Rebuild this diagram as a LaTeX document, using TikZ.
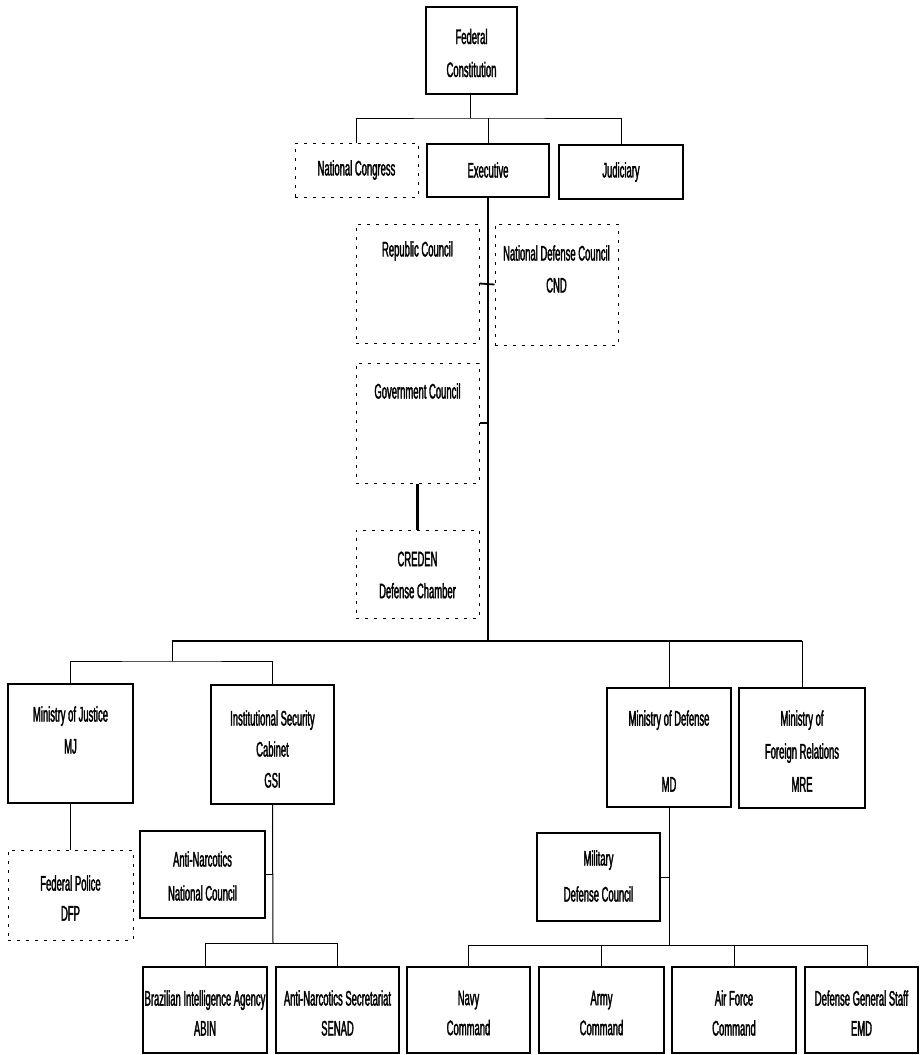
\documentclass[tikz,border=0pt]{standalone}
\usepackage{fontspec}
\newfontfamily\nar[FakeStretch=0.45,FakeBold=1.6]{Liberation Sans}
\usetikzlibrary{calc}
\begin{document}
\begin{tikzpicture}[x=1pt,y=-1pt,
  box/.style={draw, line width=2.4pt, inner sep=0pt},
  dbox/.style={draw, line width=1pt, dash pattern=on 3pt off 6pt, inner sep=0pt},
  txt/.style={align=center, inner sep=0pt, font=\nar\fontsize{21}{32}\selectfont},
  conn/.style={line width=1pt},
  heavy/.style={line width=2.4pt},
  mid/.style={line width=1.8pt}]
\useasboundingbox (0,0) rectangle (920,1055);
\fill[white] (0,0) rectangle (920,1055);

% ---- boxes ----
\node[box,  minimum width=91,  minimum height=87]  (fc)  at (471.5,50.5) {};
\node[dbox, minimum width=123, minimum height=54]  (nc)  at (356.5,170) {};
\node[box,  minimum width=122, minimum height=53]  (ex)  at (488,170.5) {};
\node[box,  minimum width=124, minimum height=54]  (ju)  at (621,172) {};
\node[dbox, minimum width=123, minimum height=119] (rc)  at (417.5,283.5) {};
\node[dbox, minimum width=123, minimum height=121] (nd)  at (556.5,284.5) {};
\node[dbox, minimum width=123, minimum height=120] (gc)  at (417.5,423) {};
\node[dbox, minimum width=123, minimum height=88]  (cr)  at (417.5,574) {};
\node[box,  minimum width=125, minimum height=119] (mj)  at (70.5,743.5) {};
\node[box,  minimum width=123, minimum height=119] (gsi) at (272.5,744.5) {};
\node[box,  minimum width=124, minimum height=119] (md)  at (669,747.5) {};
\node[box,  minimum width=126, minimum height=120] (mre) at (802,748) {};
\node[dbox, minimum width=125, minimum height=90]  (fp)  at (70.5,895) {};
\node[box,  minimum width=125, minimum height=87]  (an)  at (202.5,874.5) {};
\node[box,  minimum width=123, minimum height=88]  (mdc) at (598.5,877) {};
\node[box,  minimum width=124, minimum height=86]  (abin)  at (205,1010) {};
\node[box,  minimum width=123, minimum height=86]  (senad) at (337.5,1010) {};
\node[box,  minimum width=123, minimum height=86]  (navy)  at (468.5,1010) {};
\node[box,  minimum width=125, minimum height=86]  (army)  at (601.5,1010) {};
\node[box,  minimum width=124, minimum height=86]  (af)    at (734,1010) {};
\node[box,  minimum width=113, minimum height=86]  (emd)   at (861.5,1010) {};

% ---- texts ----
\node[txt, font=\nar\fontsize{21}{33}\selectfont] (fct) at (471.5,53) {Federal\\Constitution};
\node[txt] (nct) at (356.5,170) {National Congress};
\node[txt] (ext) at (488,170) {Executive};
\node[txt] (jut) at (621,172) {Judiciary};
\node[txt] (rct) at (417.5,251) {Republic Council};
\node[txt] (ndt) at (556.5,269) {National Defense Council\\CND};
\node[txt] (gct) at (417.5,391) {Government Council};
\node[txt] (crt) at (417.5,575) {CREDEN\\Defense Chamber};
\node[txt] (mjt) at (70.5,730) {Ministry of Justice\\MJ};
\node[txt, font=\nar\fontsize{21}{31}\selectfont] (gsit) at (272.5,749) {Institutional Security\\Cabinet\\GSI};
\node[txt] (mdt) at (669,751) {Ministry of Defense\\[34pt]MD};
\node[txt, font=\nar\fontsize{21}{33}\selectfont] (mret) at (802,751) {Ministry of\\Foreign Relations\\MRE};
\node[txt, font=\nar\fontsize{21}{30}\selectfont] (fpt) at (70.5,898) {Federal Police\\DFP};
\node[txt, font=\nar\fontsize{21}{34}\selectfont] (ant) at (202.5,876) {Anti-Narcotics\\National Council};
\node[txt, font=\nar\fontsize{21}{36}\selectfont] (mdct) at (598.5,876) {Military\\Defense Council};
\node[txt, font=\nar\fontsize{21}{30}\selectfont] (abint) at (205,1013) {Brazilian Intelligence Agency\\ABIN};
\node[txt, font=\nar\fontsize{21}{30}\selectfont] (senadt) at (337.5,1013) {Anti-Narcotics Secretariat\\SENAD};
\node[txt, font=\nar\fontsize{21}{30}\selectfont] (navyt) at (468.5,1013) {Navy\\Command};
\node[txt, font=\nar\fontsize{21}{30}\selectfont] (armyt) at (601.5,1013) {Army\\Command};
\node[txt, font=\nar\fontsize{21}{30}\selectfont] (aft) at (734,1013) {Air Force\\Command};
\node[txt, font=\nar\fontsize{21}{30}\selectfont] (emdt) at (861.5,1013) {Defense General Staff\\EMD};

% ---- junction coordinates ----
\coordinate (b1) at (470,118);
\coordinate (b2L) at (172,641);
\coordinate (b2R) at (802,641);
\coordinate (b3) at (172,661);
\coordinate (b4) at (273,943);
\coordinate (b5) at (669,945);
\coordinate (emdtop) at (867,967);

% ---- connectors ----
\draw[conn] (fc.south -| b1) -- (b1);
\draw[conn] (nc.north) |- (b1) -| (ju.north);
\draw[conn] (ex.north) -- (ex.north |- b1);

\draw[heavy] (ex.south) -- (ex.south |- b2L);
\draw[mid] (rc.east) -- (nd.west);
\draw[mid] (gc.east) -- (gc.east -| ex.south);
\draw[heavy] (gc.south) -- (cr.north);

\draw[mid] (b2L) -- (b2R);
\draw[conn] (b2L) -- (b3);
\draw[conn] (mj.north) |- (b3) -| (gsi.north);
\draw[conn] (md.north) -- (md.north |- b2R);
\draw[conn] (mre.north) -- (b2R);

\draw[conn] (mj.south) -- (fp.north);

\draw[conn] (gsi.south) -- (b4);
\draw[conn] (an.east) -- (an.east -| b4);
\draw[conn] (abin.north) |- (b4) -| (senad.north);

\draw[conn] (md.south) -- (b5);
\draw[conn] (mdc.east) -- (mdc.east -| b5);
\draw[conn] (navy.north) |- (b5) -| (emdtop);
\draw[conn] (army.north) -- (army.north |- b5);
\draw[conn] (af.north) -- (af.north |- b5);
\end{tikzpicture}
\end{document}
